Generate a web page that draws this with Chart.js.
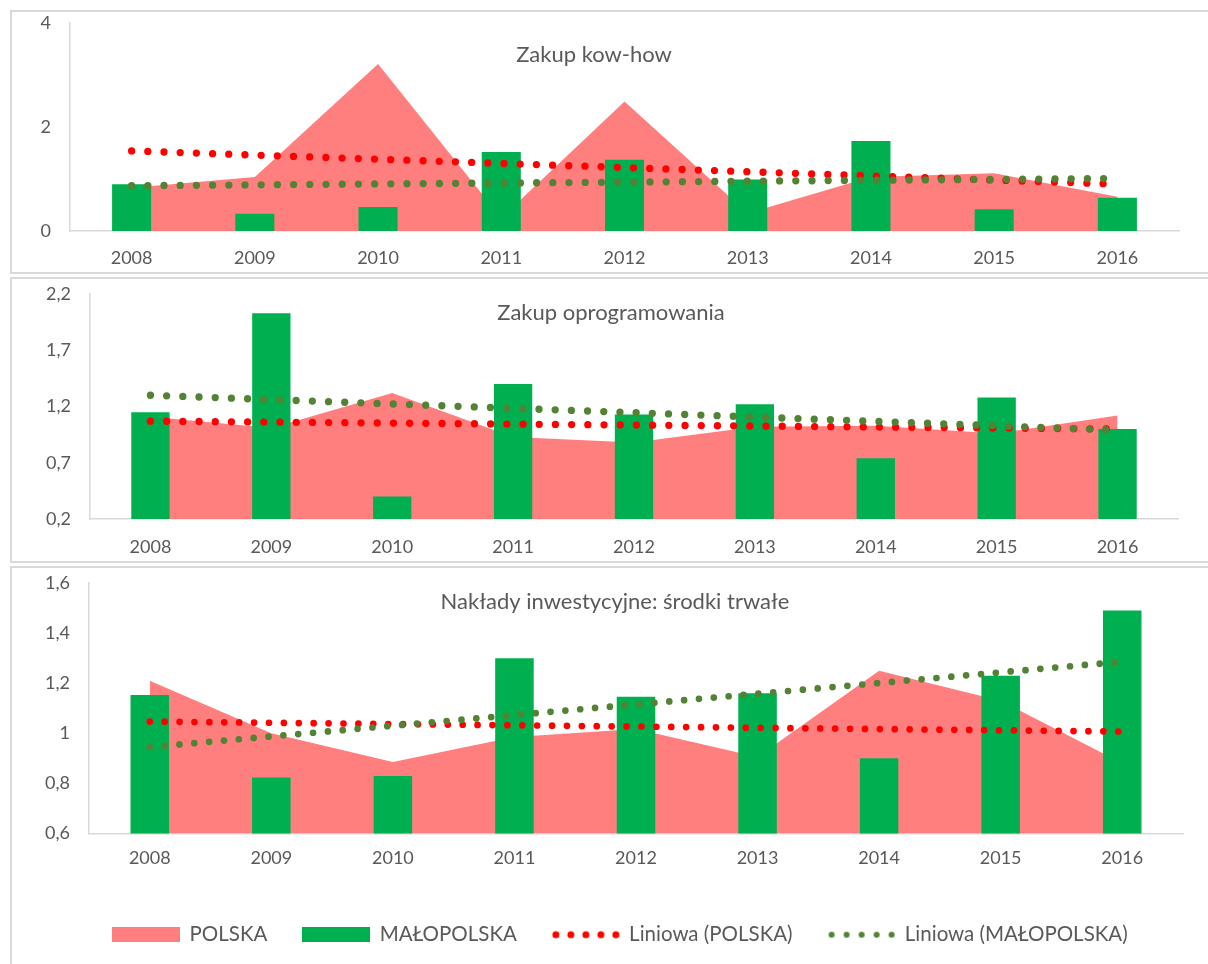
<!DOCTYPE html>
<html><head><meta charset="utf-8">
<script src="https://cdn.jsdelivr.net/npm/chart.js@4/dist/chart.umd.min.js"></script>
<style>
html,body{margin:0;padding:0;background:#fff;}
body{width:1208px;height:964px;overflow:hidden;position:relative;font-family:Lato,sans-serif;}
.panel{position:absolute;left:10px;width:1240px;border:2px solid #d9d9d9;box-sizing:border-box;}
canvas{position:absolute;left:0;}
</style></head><body>
<div class="panel" style="top:10px;height:264px"></div>
<div class="panel" style="top:277px;height:286px"></div>
<div class="panel" style="top:566px;height:420px"></div>
<canvas id="c1" width="1208" height="275" style="top:0"></canvas>
<canvas id="c2" width="1208" height="290" style="top:275px"></canvas>
<canvas id="c3" width="1240" height="420" style="top:565px"></canvas>
<script>
// ---------- DATA ----------
const years = ['2008','2009','2010','2011','2012','2013','2014','2015','2016'];
const legendNames = ['POLSKA','MAŁOPOLSKA','Liniowa (POLSKA)','Liniowa (MAŁOPOLSKA)'];

// Zakup kow-how
const knowhowTitle = 'Zakup kow-how';
const knowhowTicks = [0, 2, 4];
const knowhowPolska = [0.83, 1.04, 3.21, 0.25, 2.49, 0.34, 1.04, 1.11, 0.66];
const knowhowMalopolska = [0.90, 0.33, 0.46, 1.52, 1.37, 0.99, 1.73, 0.42, 0.64];
const knowhowTrendPolska = [1.54, 0.90];       // 2008 -> 2016
const knowhowTrendMalopolska = [0.87, 1.01];   // 2008 -> 2016

// Zakup oprogramowania
const softwareTitle = 'Zakup oprogramowania';
const softwareTicks = [0.2, 0.7, 1.2, 1.7, 2.2];
const softwarePolska = [1.11, 1.01, 1.32, 0.93, 0.88, 1.02, 1.03, 0.96, 1.12];
const softwareMalopolska = [1.15, 2.03, 0.40, 1.40, 1.13, 1.22, 0.74, 1.28, 1.00];
const softwareTrendPolska = [1.07, 1.00];
const softwareTrendMalopolska = [1.30, 0.99];

// Nakłady inwestycyjne: środki trwałe
const fixedTitle = 'Nakłady inwestycyjne: środki trwałe';
const fixedTicks = [0.6, 0.8, 1.0, 1.2, 1.4, 1.6];
const fixedPolska = [1.21, 1.00, 0.885, 0.985, 1.017, 0.905, 1.25, 1.13, 0.88];
const fixedMalopolska = [1.153, 0.824, 0.83, 1.30, 1.146, 1.16, 0.90, 1.23, 1.49];
const fixedTrendPolska = [1.047, 1.007];
const fixedTrendMalopolska = [0.945, 1.286];

// ---------- STYLE ----------
const C_AREA = '#FF7F7F', C_BAR = '#00B050', C_TP = '#FF0000', C_TM = '#548235';
const TXT = '#595959', AXIS = '#d9d9d9';
Chart.defaults.font.family = 'Lato';

const fmt = v => String(Number(v.toFixed(1))).replace('.', ',');

const panelTitle = {
  id: 'panelTitle',
  afterDraw(chart, args, o) {
    const ctx = chart.ctx;
    ctx.save();
    ctx.font = o.size + 'px Lato';
    ctx.fillStyle = TXT;
    ctx.textAlign = 'center';
    ctx.textBaseline = 'middle';
    ctx.fillText(o.text, o.x, o.y);
    ctx.restore();
  }
};

function rectIcon(color) {
  const c = document.createElement('canvas'); c.width = 68; c.height = 15;
  const x = c.getContext('2d'); x.fillStyle = color; x.fillRect(0, 0, 68, 15); return c;
}
function dotsIcon(color, r) {
  const c = document.createElement('canvas'); c.width = 68; c.height = 10;
  const x = c.getContext('2d'); x.fillStyle = color;
  for (let i = 0; i < 5; i++) { x.beginPath(); x.arc(4 + 15 * i, 5, r, 0, Math.PI * 2); x.fill(); }
  return c;
}
const legendIcons = [rectIcon(C_AREA), rectIcon(C_BAR), dotsIcon(C_TP, 3.5), dotsIcon(C_TM, 3)];

function trendData(t) {
  return [{x: years[0], y: t[0]}, {x: years[years.length - 1], y: t[1]}];
}

function makeChart(id, cfg) {
  const ticks = cfg.ticks;
  const scales = {
    x: {
      grid: {display: false, drawTicks: false},
      border: {display: true, color: AXIS, width: 1.5},
      ticks: {color: TXT, font: {size: 18}, padding: cfg.xPad, maxRotation: 0, autoSkip: false},
      afterFit: s => { s.height = cfg.xHeight; }
    },
    y: {
      min: ticks[0], max: ticks[ticks.length - 1],
      grid: {display: false, drawTicks: true, tickLength: 19},
      border: {display: true, color: AXIS, width: 1.5},
      ticks: {color: TXT, font: {size: 18}, padding: 0, callback: v => fmt(v)},
      afterBuildTicks: s => { s.ticks = ticks.map(v => ({value: v})); },
      afterFit: s => { s.width = cfg.yWidth; }
    }
  };
  if (cfg.rightSpace) {
    scales.yr = {
      position: 'right', display: true,
      grid: {display: false, drawTicks: false},
      border: {display: false},
      ticks: {display: false, padding: 0},
      afterFit: s => { s.width = cfg.rightSpace; }
    };
  }
  return new Chart(document.getElementById(id), {
    type: 'bar',
    data: {
      labels: years,
      datasets: [
        {type: 'line', label: legendNames[0], data: cfg.polska, fill: 'start', backgroundColor: C_AREA,
         borderColor: 'transparent', borderWidth: 0, pointRadius: 0, tension: 0, order: 4},
        {type: 'bar', label: legendNames[1], data: cfg.malopolska, backgroundColor: C_BAR, borderWidth: 0,
         barPercentage: 0.317, categoryPercentage: 1, order: 3},
        {type: 'line', label: legendNames[2], data: trendData(cfg.trendP), borderColor: C_TP, borderWidth: cfg.dotW,
         borderDash: [0, cfg.dotGap], borderCapStyle: 'round', pointRadius: 0, fill: false, order: 2},
        {type: 'line', label: legendNames[3], data: trendData(cfg.trendM), borderColor: C_TM, borderWidth: cfg.dotW,
         borderDash: [0, cfg.dotGap], borderCapStyle: 'round', pointRadius: 0, fill: false, order: 1}
      ]
    },
    options: {
      responsive: false, animation: false, devicePixelRatio: 1,
      layout: {padding: cfg.pad},
      events: [],
      scales: scales,
      plugins: {
        tooltip: {enabled: false},
        panelTitle: {text: cfg.title, x: cfg.tx, y: cfg.ty, size: 22},
        legend: cfg.legend ? {
          display: true, position: 'bottom',
          labels: {
            usePointStyle: true, pointStyleWidth: 66, padding: 36, color: TXT,
            font: {size: 20.5},
            generateLabels: () => legendNames.map((t, i) => ({
              text: t, pointStyle: legendIcons[i], fillStyle: 'transparent', strokeStyle: 'transparent',
              lineWidth: 0, hidden: false, datasetIndex: i, fontColor: TXT
            }))
          }
        } : {display: false}
      }
    },
    plugins: [panelTitle]
  });
}

makeChart('c1', {
  title: knowhowTitle, tx: 594, ty: 55, ticks: knowhowTicks,
  polska: knowhowPolska, malopolska: knowhowMalopolska,
  trendP: knowhowTrendPolska, trendM: knowhowTrendMalopolska,
  pad: {top: 23, left: 10, right: 29, bottom: 0}, yWidth: 60, xHeight: 44, xPad: 16,
  dotW: 7.3, dotGap: 16.2, legend: false
});
makeChart('c2', {
  title: softwareTitle, tx: 611, ty: 38, ticks: softwareTicks,
  polska: softwarePolska, malopolska: softwareMalopolska,
  trendP: softwareTrendPolska, trendM: softwareTrendMalopolska,
  pad: {top: 19, left: 10, right: 30, bottom: 0}, yWidth: 80, xHeight: 46, xPad: 17,
  dotW: 7.3, dotGap: 16.2, legend: false
});
makeChart('c3', {
  title: fixedTitle, tx: 615, ty: 37, ticks: fixedTicks,
  polska: fixedPolska, malopolska: fixedMalopolska,
  trendP: fixedTrendPolska, trendM: fixedTrendMalopolska,
  pad: {top: 18, left: 10, right: 9, bottom: 30}, yWidth: 79, rightSpace: 48, xHeight: 55, xPad: 14,
  dotW: 6.7, dotGap: 14.9, legend: true
});
</script>
</body></html>
